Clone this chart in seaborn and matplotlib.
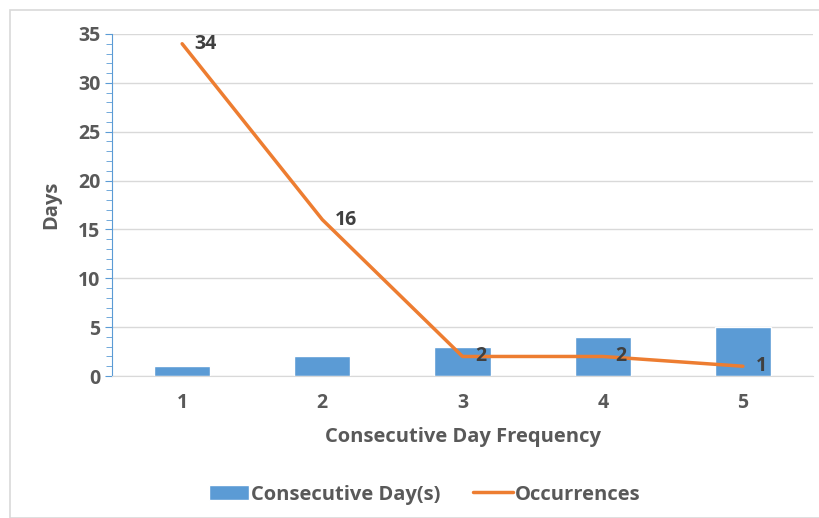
import numpy as np
import pandas as pd
import matplotlib.pyplot as plt
from matplotlib.patches import Rectangle
from matplotlib.ticker import MultipleLocator
import seaborn as sns

# chart data
frequency = ['1', '2', '3', '4', '5']
consecutive_days = [1, 2, 3, 4, 5]
occurrences = [34, 16, 2, 2, 1]

bar_color = '#5B9BD5'
line_color = '#ED7D31'
text_color = '#595959'

sns.set_style('white')
plt.rcParams['font.family'] = ['Open Sans', 'DejaVu Sans']

df = pd.DataFrame({'freq': frequency, 'days': consecutive_days, 'occ': occurrences})
df['pos'] = np.arange(len(df))

fig = plt.figure(figsize=(8.19, 5.18), dpi=100)
ax = fig.add_axes([0.1368, 0.2741, 0.8559, 0.6603])

# outer chart border
fig.patches.append(Rectangle((10 / 819, 0), 1.0, 1 - 10 / 518, transform=fig.transFigure,
                             fill=False, edgecolor='#D9D9D9', linewidth=1.2))

sns.barplot(data=df, x='freq', y='days', color=bar_color, width=0.4, saturation=1,
            ax=ax, label='Consecutive Day(s)', zorder=2)
sns.lineplot(data=df, x='pos', y='occ', color=line_color, linewidth=2.5, ax=ax,
             label='Occurrences', zorder=3)

for x, y in zip(df['pos'], df['occ']):
    ax.text(x + 0.09, y, str(y), ha='left', va='center',
            fontsize=14, fontweight='bold', color='#404040', zorder=4)

ax.set_xlim(-0.5, 4.5)
ax.set_ylim(0, 35)
ax.yaxis.set_major_locator(MultipleLocator(5))
ax.yaxis.set_minor_locator(MultipleLocator(1))
ax.grid(axis='y', color='#D9D9D9', linewidth=1, zorder=0)
ax.set_axisbelow(True)

for s in ['top', 'right']:
    ax.spines[s].set_visible(False)
ax.spines['left'].set_color(bar_color)
ax.spines['bottom'].set_color('#D9D9D9')
ax.tick_params(axis='y', which='both', direction='out', color=bar_color, length=5,
               labelsize=14, labelcolor=text_color, left=True)
ax.tick_params(axis='y', which='minor', length=4)
ax.tick_params(axis='x', length=0, labelsize=14, labelcolor=text_color, pad=12)
for lbl in ax.get_xticklabels() + ax.get_yticklabels():
    lbl.set_fontweight('bold')

ax.set_xlabel('Consecutive Day Frequency', fontsize=14.5, fontweight='bold', color=text_color, labelpad=10)
ax.set_ylabel('Days', fontsize=14.5, fontweight='bold', color=text_color, labelpad=12)

handles, labels = ax.get_legend_handles_labels()
order = [labels.index('Consecutive Day(s)'), labels.index('Occurrences')]
leg = fig.legend([handles[i] for i in order], [labels[i] for i in order],
                 loc='center', bbox_to_anchor=(0.519, 0.045), ncol=2,
                 frameon=False, fontsize=14.5, handlelength=2.0, handleheight=0.8,
                 columnspacing=1.6, handletextpad=0.1, labelcolor=text_color)
for t in leg.get_texts():
    t.set_fontweight('bold')
if ax.get_legend():
    ax.get_legend().remove()

fig.savefig('out.png', dpi=100)
